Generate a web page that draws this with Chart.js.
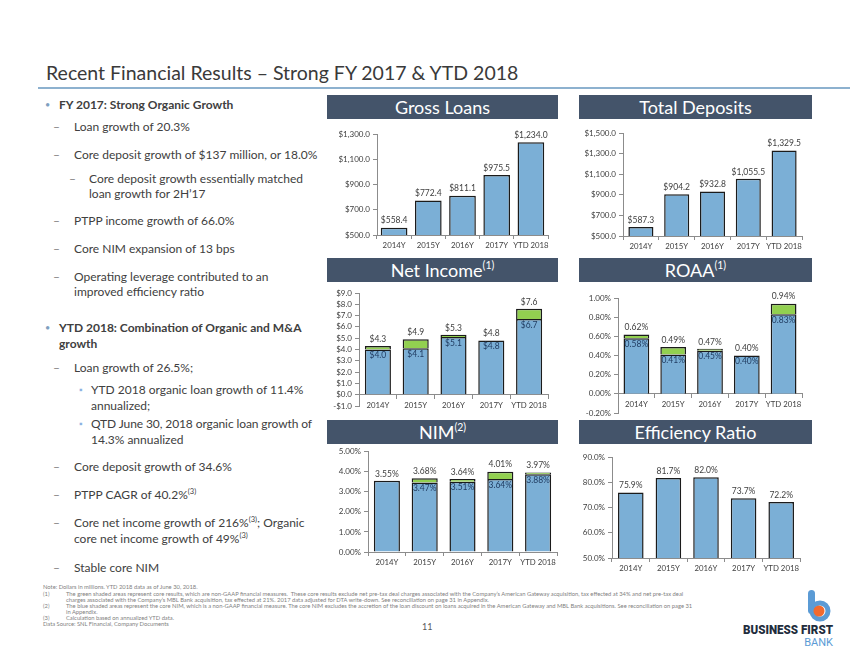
<!DOCTYPE html>
<html>
<head>
<meta charset="utf-8">
<script src="https://cdn.jsdelivr.net/npm/chart.js@4.4.1/dist/chart.umd.min.js"></script>
<style>
  body { margin: 0; background: #fff; font-family: Lato, sans-serif; }
  #page { position: relative; width: 850px; height: 657px; overflow: hidden; }
  .title { position: absolute; left: 46px; top: 60px; font-size: 19.5px; line-height: 26px; color: #3a3a3a; white-space: nowrap; }
  .rule { position: absolute; left: 38px; top: 87px; width: 812px; height: 2px; background: #8db1cf; }
  .hdr { position: absolute; height: 24px; background: #44546a; color: #fff; font-size: 18px; line-height: 24px; text-align: center; white-space: nowrap; }
  .hdr sup { font-size: 10.5px; vertical-align: top; line-height: 14px; }
  .t { position: absolute; white-space: nowrap; font-size: 12px; line-height: 14px; color: #404040; }
  .t sup { font-size: 7.5px; line-height: 0; }
  .b { font-weight: bold; }
  .dot { color: #7f9fbf; font-size: 9px; }
  .dash { color: #7f7f7f; }
  .sq { color: #8db3e2; font-size: 9px; }
  .fn { position: absolute; white-space: nowrap; font-size: 5.8px; line-height: 7px; color: #7f7f7f; }
  canvas { position: absolute; }
</style>
</head>
<body>
<div id="page">
  <div class="title">Recent Financial Results – Strong FY 2017 &amp; YTD 2018</div>
  <div class="rule"></div>

  <!-- left column text -->
  <div class="t dot" style="left:45px;top:98px">•</div>
  <div class="t b" style="left:59px;top:98px">FY 2017: Strong Organic Growth</div>
  <div class="t dash" style="left:53px;top:120px">–</div>
  <div class="t" style="left:74px;top:120px">Loan growth of 20.3%</div>
  <div class="t dash" style="left:53px;top:148px">–</div>
  <div class="t" style="left:74px;top:148px">Core deposit growth of $137 million, or 18.0%</div>
  <div class="t dash" style="left:69px;top:172px">–</div>
  <div class="t" style="left:89px;top:172px">Core deposit growth essentially matched</div>
  <div class="t" style="left:89px;top:187px">loan growth for 2H’17</div>
  <div class="t dash" style="left:53px;top:214px">–</div>
  <div class="t" style="left:74px;top:214px">PTPP income growth of 66.0%</div>
  <div class="t dash" style="left:53px;top:242px">–</div>
  <div class="t" style="left:74px;top:242px">Core NIM expansion of 13 bps</div>
  <div class="t dash" style="left:53px;top:270px">–</div>
  <div class="t" style="left:74px;top:270px">Operating leverage contributed to an</div>
  <div class="t" style="left:74px;top:285px">improved efficiency ratio</div>

  <div class="t dot" style="left:45px;top:321px">•</div>
  <div class="t b" style="left:59px;top:321px">YTD 2018: Combination of Organic and M&amp;A</div>
  <div class="t b" style="left:59px;top:337px">growth</div>
  <div class="t dash" style="left:53px;top:361px">–</div>
  <div class="t" style="left:74px;top:361px">Loan growth of 26.5%;</div>
  <div class="t sq" style="left:79px;top:383px">▪</div>
  <div class="t" style="left:91px;top:383px">YTD 2018 organic loan growth of 11.4%</div>
  <div class="t" style="left:91px;top:399px">annualized;</div>
  <div class="t sq" style="left:79px;top:417px">▪</div>
  <div class="t" style="left:91px;top:417px;letter-spacing:-0.1px">QTD June 30, 2018 organic loan growth of</div>
  <div class="t" style="left:91px;top:433px">14.3% annualized</div>
  <div class="t dash" style="left:53px;top:460px">–</div>
  <div class="t" style="left:74px;top:460px">Core deposit growth of 34.6%</div>
  <div class="t dash" style="left:53px;top:488px">–</div>
  <div class="t" style="left:74px;top:488px">PTPP CAGR of 40.2%<sup>(3)</sup></div>
  <div class="t dash" style="left:53px;top:516px">–</div>
  <div class="t" style="left:74px;top:516px">Core net income growth of 216%<sup>(3)</sup>; Organic</div>
  <div class="t" style="left:74px;top:532px">core net income growth of 49%<sup>(3)</sup></div>
  <div class="t dash" style="left:53px;top:561px">–</div>
  <div class="t" style="left:74px;top:561px">Stable core NIM</div>

  <canvas id="cLoans"></canvas>
  <canvas id="cDeposits"></canvas>
  <canvas id="cIncome"></canvas>
  <canvas id="cRoaa"></canvas>
  <canvas id="cNim"></canvas>
  <canvas id="cEff"></canvas>

  <div class="hdr" style="left:327px;top:95px;width:231px">Gross Loans</div>
  <div class="hdr" style="left:579px;top:95px;width:233px">Total Deposits</div>
  <div class="hdr" style="left:327px;top:258px;width:231px">Net Income<sup>(1)</sup></div>
  <div class="hdr" style="left:579px;top:258px;width:233px">ROAA<sup>(1)</sup></div>
  <div class="hdr" style="left:327px;top:420px;width:231px">NIM<sup>(2)</sup></div>
  <div class="hdr" style="left:579px;top:420px;width:233px">Efficiency Ratio</div>

  <!-- footnotes -->
  <div class="fn" style="left:43px;top:583px">Note: Dollars in millions. YTD 2018 data as of June 30, 2018.</div>
  <div class="fn" style="left:43px;top:590px">(1)</div>
  <div class="fn" style="left:66px;top:590px">The green shaded areas represent core results, which are non-GAAP financial measures.&nbsp; These core results exclude net pre-tax deal charges associated with the Company’s American Gateway acquisition, tax effected at 34% and net pre-tax deal</div>
  <div class="fn" style="left:66px;top:596px">charges associated with the Company’s MBL Bank acquisition, tax effected at 21%. 2017 data adjusted for DTA write-down. See reconciliation on page 31 in Appendix.</div>
  <div class="fn" style="left:43px;top:602px">(2)</div>
  <div class="fn" style="left:66px;top:602px">The blue shaded areas represent the core NIM, which is a non-GAAP financial measure. The core NIM excludes the accretion of the loan discount on loans acquired in the American Gateway and MBL Bank acquisitions. See reconciliation on page 31</div>
  <div class="fn" style="left:66px;top:608px">in Appendix.</div>
  <div class="fn" style="left:43px;top:614px">(3)</div>
  <div class="fn" style="left:66px;top:614px">Calculation based on annualized YTD data.</div>
  <div class="fn" style="left:43px;top:620px">Data Source: SNL Financial, Company Documents</div>
  <div class="t" style="left:422px;top:620px;font-size:9px;color:#595959">11</div>

  <!-- logo -->
  <svg style="position:absolute;left:790px;top:585px" width="50" height="40">
    <rect x="18" y="5" width="7" height="24" rx="3.5" fill="#5b9bd5"></rect>
    <circle cx="30" cy="26" r="8" fill="none" stroke="#5b9bd5" stroke-width="5"></circle>
    <circle cx="29" cy="26" r="5.5" fill="#f26a2e"></circle>
  </svg>
  <div id="logoTop" style="position:absolute;left:743px;top:623px;font-family:Roboto,sans-serif;font-weight:900;font-size:12.5px;line-height:14px;color:#1f2d3d;white-space:nowrap;transform-origin:left top">BUSINESS FIRST</div>
  <div style="position:absolute;right:17px;top:636px;font-family:Roboto,sans-serif;font-size:11px;line-height:13px;color:#5b9bd5">BANK</div>
</div>

<script>
// Data
const years = ['2014Y', '2015Y', '2016Y', '2017Y', 'YTD 2018'];
const grossLoans = [558.4, 772.4, 811.1, 975.5, 1234.0];
const totalDeposits = [587.3, 904.2, 932.8, 1055.5, 1329.5];
const netIncomeGaap = [4.0, 4.1, 5.1, 4.8, 6.7];
const netIncomeCore = [4.3, 4.9, 5.3, 4.8, 7.6];
const roaaGaap = [0.58, 0.41, 0.45, 0.40, 0.83];
const roaaCore = [0.62, 0.49, 0.47, 0.40, 0.94];
const nimReported = [3.55, 3.68, 3.64, 4.01, 3.97];
const nimCore = [null, 3.47, 3.51, 3.64, 3.88];
const efficiency = [75.9, 81.7, 82.0, 73.7, 72.2];

const BLUE = '#7bafd6';
const GREEN = '#92d050';
const AXIS = '#8c8c8c';
const TICK = '#404040';
const FONT = 'Lato';

// tick values like -1e-17 should print as zero
const clean = (v) => (Math.abs(v) < 1e-9 ? 0 : v);
const money = (v) => (clean(v) < 0 ? '-$' : '$') + Math.abs(v).toLocaleString('en-US', { minimumFractionDigits: 1, maximumFractionDigits: 1 });
const pct2 = (v) => clean(v).toFixed(2) + '%';
const pct1 = (v) => clean(v).toFixed(1) + '%';

// draws the value above each bar and the core value inside the blue part
const labelPlugin = (top, inner, fmt) => ({
  id: 'barLabels',
  afterDatasetsDraw(chart) {
    const { ctx } = chart;
    const y = chart.scales.y;
    const meta = chart.getDatasetMeta(0);
    ctx.save();
    ctx.font = `8.5px ${FONT}`;
    ctx.textAlign = 'center';
    ctx.textBaseline = 'middle';
    top.forEach((v, i) => {
      const x = meta.data[i].x;
      ctx.fillStyle = TICK;
      ctx.fillText(fmt(v), x, y.getPixelForValue(v) - 7);
      if (inner && inner[i] != null) {
        ctx.fillStyle = '#1f3a5f';
        ctx.fillText(fmt(inner[i]), x, y.getPixelForValue(inner[i]) + 6);
      }
    });
    ctx.restore();
  },
});

const makeChart = (id, g, o) => {
  const cv = document.getElementById(id);
  cv.width = g.w;
  cv.height = g.h;
  cv.style.left = g.x + 'px';
  cv.style.top = g.y + 'px';
  // eslint-disable-next-line no-new
  new Chart(cv, {
    type: 'bar',
    data: {
      labels: years,
      datasets: o.series.map((s) => ({
        data: s.data,
        backgroundColor: s.color,
        borderColor: '#1b1b1b',
        borderWidth: 1.5,
        barPercentage: o.barPct,
        categoryPercentage: 1,
      })),
    },
    options: {
      responsive: false,
      animation: false,
      layout: { padding: { top: g.pt, right: g.pr, bottom: g.pb || 0, left: 0 } },
      scales: {
        x: {
          stacked: true,
          position: o.zeroAxis ? { y: 0 } : 'bottom',
          grid: { offset: true, drawOnChartArea: false, tickLength: 4, color: AXIS },
          border: { color: AXIS },
          ticks: { font: { family: FONT, size: 7.8 }, color: TICK, padding: 2, maxRotation: 0, autoSkip: false },
          afterFit: (s) => { if (!o.zeroAxis) s.height = g.xh; },
        },
        y: {
          stacked: true,
          min: o.min,
          max: o.max,
          grid: { drawOnChartArea: false, tickLength: 4, color: AXIS },
          border: { color: AXIS },
          ticks: {
            stepSize: o.step, autoSkip: false, font: { family: FONT, size: 8 }, color: TICK, padding: 3, callback: o.fmt,
          },
          afterFit: (s) => { s.width = g.yw; },
        },
      },
      plugins: { legend: { display: false }, tooltip: { enabled: false } },
    },
    plugins: [labelPlugin(o.top, o.inner, o.fmt)],
  });
};

const draw = () => {
  makeChart('cLoans', { x: 318, y: 122, w: 240, h: 135, yw: 59, pt: 12, pr: 10, xh: 22 }, {
    series: [{ data: grossLoans, color: BLUE }],
    min: 500, max: 1300, step: 200, fmt: money, barPct: 0.78, top: grossLoans,
  });
  makeChart('cDeposits', { x: 566, y: 121, w: 247, h: 137, yw: 57, pt: 12, pr: 11, xh: 22 }, {
    series: [{ data: totalDeposits, color: BLUE }],
    min: 500, max: 1500, step: 200, fmt: money, barPct: 0.7, top: totalDeposits,
  });
  makeChart('cIncome', { x: 300, y: 283, w: 258, h: 140, yw: 59, pt: 10, pr: 10, pb: 17 }, {
    series: [
      { data: netIncomeGaap, color: BLUE },
      { data: netIncomeCore.map((v, i) => +(v - netIncomeGaap[i]).toFixed(2)), color: GREEN },
    ],
    min: -1, max: 9, step: 1, fmt: money, barPct: 0.69, zeroAxis: true,
    top: netIncomeCore, inner: netIncomeGaap,
  });
  makeChart('cRoaa', { x: 565, y: 286, w: 248, h: 140, yw: 53, pt: 12, pr: 11, pb: 13 }, {
    series: [
      { data: roaaGaap, color: BLUE },
      { data: roaaCore.map((v, i) => +(v - roaaGaap[i]).toFixed(3)), color: GREEN },
    ],
    min: -0.2, max: 1.0, step: 0.2, fmt: pct2, barPct: 0.7, zeroAxis: true,
    top: roaaCore, inner: roaaGaap,
  });
  const nimBase = nimCore.map((v, i) => (v == null ? nimReported[i] : v));
  makeChart('cNim', { x: 305, y: 444, w: 262, h: 130, yw: 63, pt: 7, pr: 10, xh: 22 }, {
    series: [
      { data: nimBase, color: BLUE },
      { data: nimReported.map((v, i) => +(v - nimBase[i]).toFixed(3)), color: GREEN },
    ],
    min: 0, max: 5, step: 1, fmt: pct2, barPct: 0.69,
    top: nimReported, inner: nimCore,
  });
  makeChart('cEff', { x: 560, y: 446, w: 251, h: 134, yw: 52, pt: 11, pr: 11, xh: 22 }, {
    series: [{ data: efficiency, color: BLUE }],
    min: 50, max: 90, step: 10, fmt: pct1, barPct: 0.68, top: efficiency,
  });
  const logo = document.getElementById('logoTop');
  logo.style.transform = `scaleX(${90 / logo.offsetWidth})`;
};

document.fonts.load(`10px ${FONT}`).then(draw, draw);
</script>
</body>
</html>
